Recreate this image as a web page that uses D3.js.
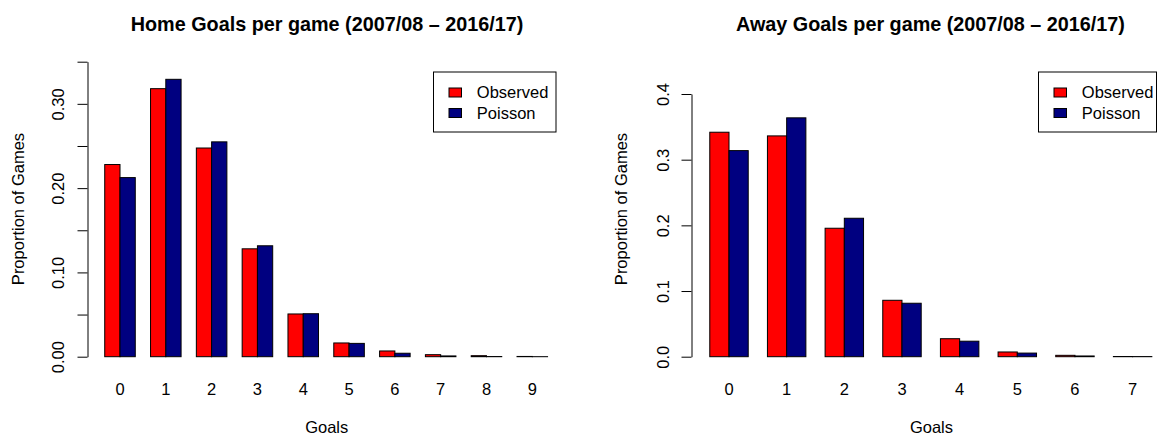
<!DOCTYPE html>
<html>
<head>
<meta charset="utf-8">
<script src="https://cdn.jsdelivr.net/npm/d3@7"></script>
<style>
  html, body { margin: 0; padding: 0; background: #fff; }
  svg { display: block; font-family: "Liberation Sans", Arial, Helvetica, sans-serif; }
</style>
</head>
<body>
<svg id="chart" width="1159" height="436"></svg>
<script>
// Goals scored per game, observed frequencies vs. fitted Poisson probabilities
const homeGoals = ["0", "1", "2", "3", "4", "5", "6", "7", "8", "9"];
const homeObserved = [0.228, 0.318, 0.2476, 0.128, 0.0507, 0.0163, 0.0068, 0.0024, 0.0012, 0.0003];
const homePoisson  = [0.2125, 0.3291, 0.2549, 0.1316, 0.0510, 0.0158, 0.0041, 0.0009, 0.0002, 0.00003];
const homeTicks = [0, 0.05, 0.10, 0.15, 0.20, 0.25, 0.30, 0.35];
const homeTickLabels = ["0.00", "", "0.10", "", "0.20", "", "0.30", ""];

const awayGoals = ["0", "1", "2", "3", "4", "5", "6", "7"];
const awayObserved = [0.3418, 0.3362, 0.1956, 0.0859, 0.0274, 0.0072, 0.0021, 0.0003];
const awayPoisson  = [0.3138, 0.3637, 0.2108, 0.0814, 0.0236, 0.0055, 0.0011, 0.0002];
const awayTicks = [0, 0.1, 0.2, 0.3, 0.4];
const awayTickLabels = ["0.0", "0.1", "0.2", "0.3", "0.4"];

const seriesNames = ["Observed", "Poisson"];
const seriesColors = ["#ff0000", "#000080"];

const svg = d3.select("#chart");
const FONT = 16.5;

function panel(opt) {
  const g = svg.append("g");
  const n = opt.goals.length;
  // bar units: group i holds two unit-wide bars at [3i+1, 3i+3]
  const x = d3.scaleLinear().domain([1, 3 * n]).range(opt.xRange);
  const y = d3.scaleLinear().domain([0, d3.max(opt.ticks)]).range([356.7, opt.yTop]);

  // title
  g.append("text")
    .attr("x", opt.titleX).attr("y", 31)
    .attr("text-anchor", "middle")
    .attr("font-size", 19.8).attr("font-weight", "bold")
    .text(opt.title);

  // bars
  const series = [opt.observed, opt.poisson];
  series.forEach((vals, s) => {
    g.append("g").selectAll("rect")
      .data(vals)
      .join("rect")
      .attr("x", (d, i) => x(3 * i + 1 + s))
      .attr("width", (d, i) => x(3 * i + 2 + s) - x(3 * i + 1 + s))
      .attr("y", d => y(d))
      .attr("height", d => y(0) - y(d))
      .attr("fill", seriesColors[s])
      .attr("stroke", "#000")
      .attr("stroke-width", 1);
  });

  // group labels
  g.append("g").selectAll("text")
    .data(opt.goals)
    .join("text")
    .attr("x", (d, i) => x(3 * i + 2))
    .attr("y", 394.5)
    .attr("text-anchor", "middle")
    .attr("font-size", FONT)
    .text(d => d);

  // y axis
  const axis = d3.axisLeft(y)
    .tickValues(opt.ticks)
    .tickSize(10)
    .tickSizeOuter(0)
    .tickFormat((d, i) => opt.tickLabels[i]);
  const ag = g.append("g")
    .attr("transform", `translate(${opt.axisX},0)`)
    .call(axis);
  ag.select(".domain").attr("stroke", "#000");
  ag.selectAll(".tick line").attr("stroke", "#000");
  ag.selectAll(".tick text")
    .attr("x", null).attr("dy", null)
    .attr("text-anchor", "middle")
    .attr("transform", `translate(${-opt.labelOffset},0) rotate(-90)`)
    .attr("font-size", FONT)
    .attr("font-family", "Liberation Sans, Arial, sans-serif")
    .attr("fill", "#000");

  // axis titles
  g.append("text")
    .attr("transform", `translate(${opt.yTitleX},209) rotate(-90)`)
    .attr("text-anchor", "middle")
    .attr("font-size", FONT)
    .text("Proportion of Games");
  g.append("text")
    .attr("x", opt.xTitleX).attr("y", 433.3)
    .attr("text-anchor", "middle")
    .attr("font-size", FONT)
    .text("Goals");

  // legend
  const lg = g.append("g").attr("transform", `translate(${opt.legendX},72)`);
  lg.append("rect")
    .attr("x", 0).attr("y", 0)
    .attr("width", opt.legendW).attr("height", 60)
    .attr("fill", "#fff").attr("stroke", "#000").attr("stroke-width", 1);
  seriesNames.forEach((name, s) => {
    const cy = 20.5 + s * 20.5;
    lg.append("rect")
      .attr("x", 15.5).attr("y", cy - 4.5)
      .attr("width", 12.5).attr("height", 9)
      .attr("fill", seriesColors[s])
      .attr("stroke", "#000").attr("stroke-width", 1);
    lg.append("text")
      .attr("x", 43.3).attr("y", cy + 5.8)
      .attr("font-size", FONT)
      .text(name);
  });
}

panel({
  title: "Home Goals per game (2007/08 \u2013 2016/17)",
  goals: homeGoals, observed: homeObserved, poisson: homePoisson,
  ticks: homeTicks, tickLabels: homeTickLabels,
  xRange: [104.73, 547.56], yTop: 61.7,
  axisX: 87.5, labelOffset: 24, yTitleX: 23.5,
  titleX: 327, xTitleX: 326.7,
  legendX: 433.5, legendW: 122.5
});

panel({
  title: "Away Goals per game (2007/08 \u2013 2016/17)",
  goals: awayGoals, observed: awayObserved, poisson: awayPoisson,
  ticks: awayTicks, tickLabels: awayTickLabels,
  xRange: [709.78, 1151.84], yTop: 94,
  axisX: 691.5, labelOffset: 22.5, yTitleX: 627,
  titleX: 930.5, xTitleX: 931.5,
  legendX: 1038.5, legendW: 118
});
</script>
</body>
</html>
